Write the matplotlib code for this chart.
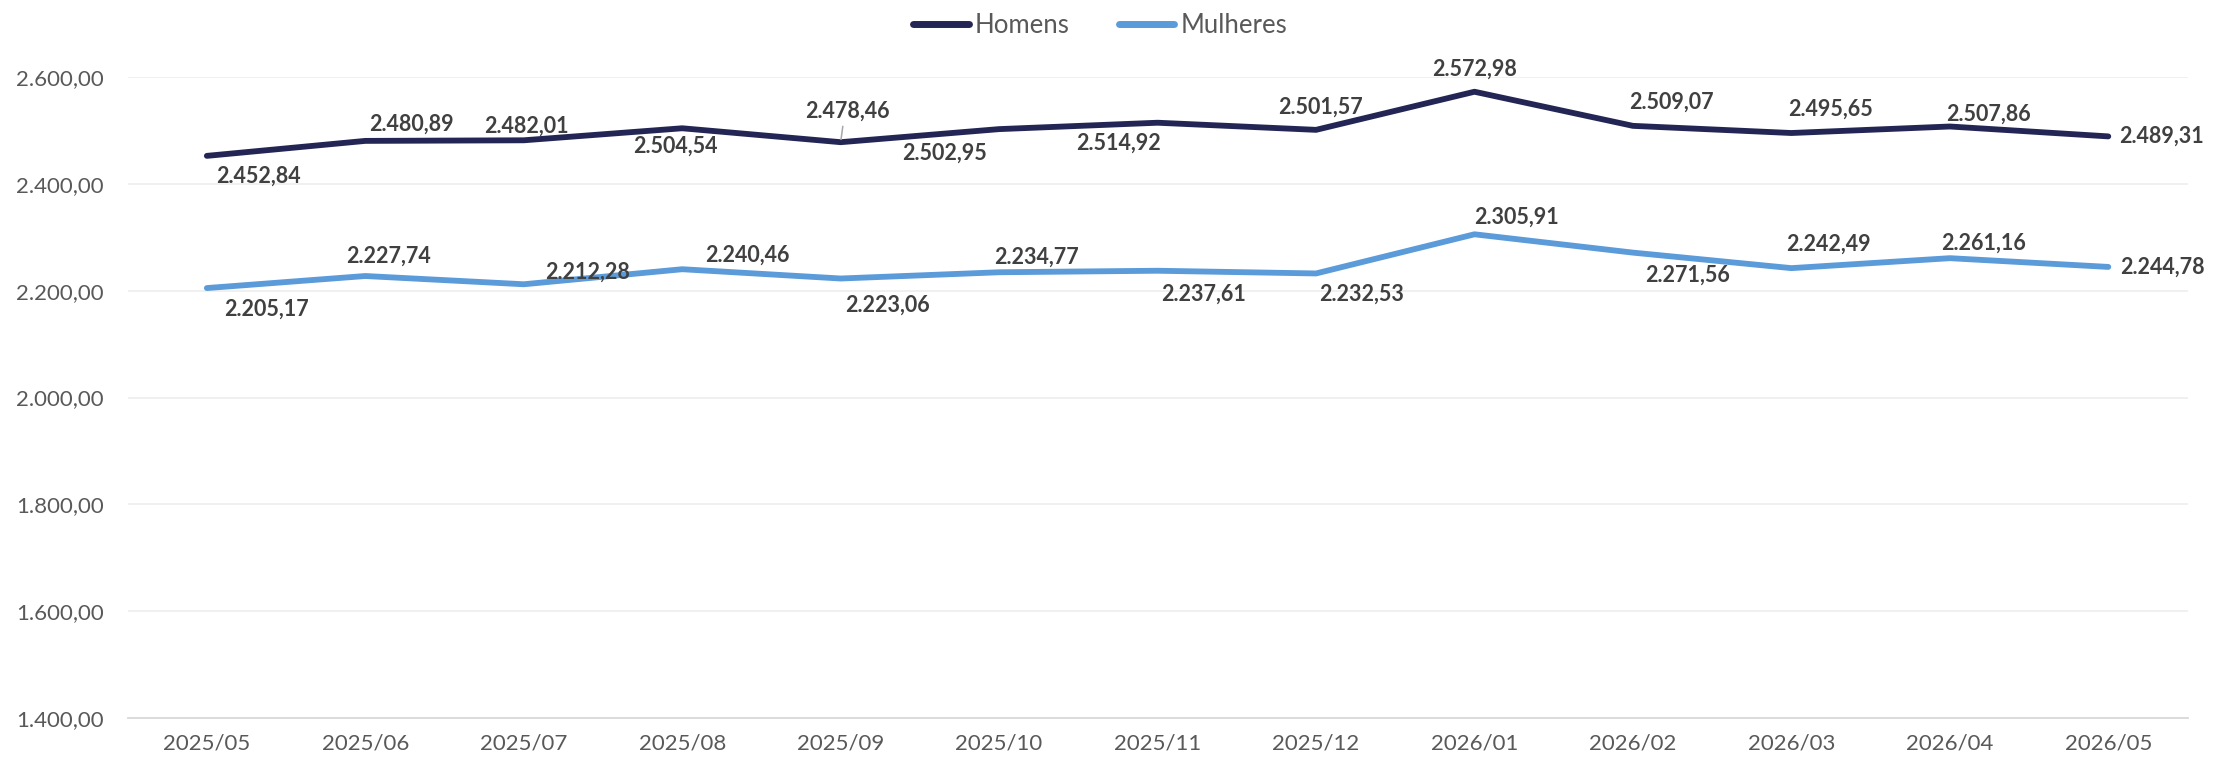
import matplotlib.pyplot as plt
from matplotlib import font_manager

# data
months = ['2025/05', '2025/06', '2025/07', '2025/08', '2025/09', '2025/10', '2025/11',
          '2025/12', '2026/01', '2026/02', '2026/03', '2026/04', '2026/05']
homens = [2452.84, 2480.89, 2482.01, 2504.54, 2478.46, 2502.95, 2514.92,
          2501.57, 2572.98, 2509.07, 2495.65, 2507.86, 2489.31]
mulheres = [2205.17, 2227.74, 2212.28, 2240.46, 2223.06, 2234.77, 2237.61,
            2232.53, 2305.91, 2271.56, 2242.49, 2261.16, 2244.78]
yticks = [1400, 1600, 1800, 2000, 2200, 2400, 2600]

# label offsets in points (placement only)
off_h = [(37, -15), (33, 12), (2, 10), (-5, -13), (5, 22), (-39, -17), (-28, -15),
         (3, 16), (0, 16), (28, 17), (28, 17), (28, 9), (38, 0)]
off_m = [(43, -15), (17, 14), (46, 9), (47, 10), (34, -19), (27, 11), (33, -17),
         (33, -15), (30, 12), (39, -16), (27, 17), (24, 11), (39, 0)]

names = {f.name for f in font_manager.fontManager.ttflist}
base_font = 'Lato' if 'Lato' in names else 'DejaVu Sans'
plt.rcParams['font.family'] = [base_font, 'DejaVu Sans']


def fmt(v):
    s = f'{v:,.2f}'
    return s.replace(',', 'X').replace('.', ',').replace('X', '.')


c_h = '#232654'
c_m = '#5B9BD9'

fig = plt.figure(figsize=(22.39, 7.58), dpi=100)
ax = fig.add_axes([0.057, 0.053, 0.920, 0.845])

x = list(range(len(months)))
ax.plot(x, homens, color=c_h, lw=4.2, solid_capstyle='round', solid_joinstyle='round', label='Homens', zorder=3)
ax.plot(x, mulheres, color=c_m, lw=4.2, solid_capstyle='round', solid_joinstyle='round', label='Mulheres', zorder=3)

for series, offs in ((homens, off_h), (mulheres, off_m)):
    for i, v in enumerate(series):
        dx, dy = offs[i]
        kw = {}
        if series is homens and i == 4:
            # small leader line like the original
            kw['arrowprops'] = dict(arrowstyle='-', color='#A6A6A6', lw=1.1,
                                    shrinkA=1, shrinkB=2, relpos=(0.45, 0.0))
        ax.annotate(fmt(v), (i, v), xytext=(dx, dy), textcoords='offset points',
                    ha='center', va='center', fontsize=15.5, fontweight='bold',
                    color='#404040', zorder=4, **kw)

ax.set_xlim(-0.5, len(months) - 0.5)
ax.set_ylim(1400, 2600)
ax.set_yticks(yticks)
ax.set_yticklabels([fmt(t) for t in yticks])
ax.set_xticks(x)
ax.set_xticklabels(months)
ax.tick_params(axis='both', length=0, labelsize=16, colors='#595959')
ax.tick_params(axis='y', pad=17)
ax.tick_params(axis='x', pad=11)
ax.grid(axis='y', color='#EFEFEF', lw=1.3, zorder=0)
for s in ['top', 'right', 'left']:
    ax.spines[s].set_visible(False)
ax.spines['bottom'].set_color('#D9D9D9')
ax.spines['bottom'].set_linewidth(1.3)

leg = fig.legend(loc='upper center', bbox_to_anchor=(0.4914, 1.013), ncol=2, frameon=False,
                 fontsize=18.5, handlelength=2.15, handletextpad=0.25, columnspacing=1.9,
                 labelcolor='#595959')
for h in leg.get_lines():
    h.set_linewidth(5)
    h.set_solid_capstyle('round')

fig.savefig('out.png', dpi=100, facecolor='white')
